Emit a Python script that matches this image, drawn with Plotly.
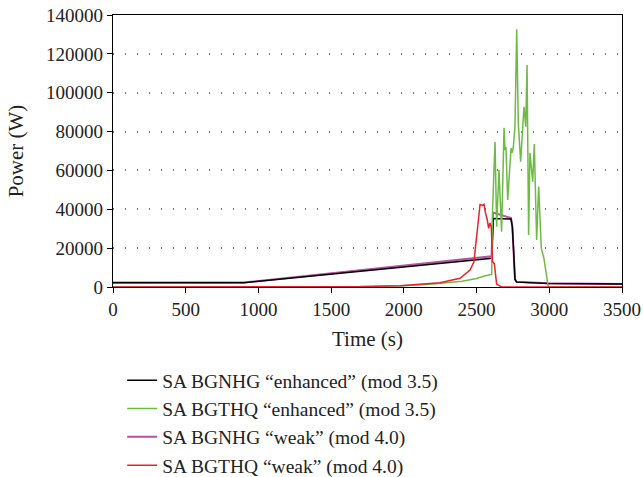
import plotly.graph_objects as go

# ---- data ----
black_t = [0, 900, 2605, 2615, 2737, 2746, 2755, 2764, 2775, 2990, 3500]
black_p = [2200, 2200, 14800, 35300, 35000, 31000, 18000, 4000, 2500, 1800, 1500]

magenta_t = [0, 900, 2603, 2613, 2737, 2746, 2755, 2764, 2775, 2990, 3500]
magenta_p = [2300, 2300, 15800, 38300, 35500, 31000, 18000, 4000, 2700, 1900, 1600]

green_t = [0, 1500, 1800, 2000, 2200, 2400, 2500, 2560, 2604, 2610, 2627, 2638, 2654, 2672,
           2689, 2695, 2702, 2714, 2737, 2746, 2753, 2764, 2776, 2787, 2803, 2826, 2838,
           2847, 2858, 2867, 2886, 2897, 2913, 2927, 2945, 2963, 2993, 3500]
green_p = [0, 0, 300, 700, 1500, 3000, 4400, 5800, 6500, 40000, 74800, 31000, 60200, 28500,
           82000, 70500, 72200, 44800, 71400, 69100, 72200, 82500, 132600, 84200, 64500,
           92800, 82500, 114300, 26800, 69100, 54200, 73600, 24200, 51700, 19900, 14800, 0, 0]

red_t = [0, 1400, 1700, 1973, 2248, 2386, 2455, 2482, 2505, 2524, 2542, 2551, 2560, 2574,
         2583, 2592, 2601, 2610, 2622, 2638, 2672, 3500]
red_p = [0, 0, 200, 700, 2200, 4460, 8750, 13000, 27600, 42500, 42000, 42500, 38500, 34500,
         30200, 33000, 31000, 13000, 12000, 1500, 0, 0]

x_ticks = [0, 500, 1000, 1500, 2000, 2500, 3000, 3500]
y_ticks = [0, 20000, 40000, 60000, 80000, 100000, 120000, 140000]

FONT = "Liberation Serif"

fig = go.Figure()
traces = [
    ("SA BGNHG \u201cweak\u201d (mod 4.0)", magenta_t, magenta_p, "#b5539f", 2, 3),
    ("SA BGNHG \u201cenhanced\u201d (mod 3.5)", black_t, black_p, "#000000", 1.5, 1),
    ("SA BGTHQ \u201cenhanced\u201d (mod 3.5)", green_t, green_p, "#6dbb45", 1.5, 2),
    ("SA BGTHQ \u201cweak\u201d (mod 4.0)", red_t, red_p, "#e8232a", 1.5, 4),
]
for name, t, p, c, w, rank in traces:
    fig.add_trace(go.Scatter(x=t, y=p, mode="lines", name=name,
                             line=dict(color=c, width=w),
                             legendrank=rank, legendgroup=name))

fig.update_layout(
    width=643, height=477,
    margin=dict(l=113, r=21, t=15, b=190, autoexpand=False),
    paper_bgcolor="white", plot_bgcolor="white",
    font=dict(family=FONT, size=19, color="#222"),
    showlegend=True,
    legend=dict(x=0.018, y=-0.272, xanchor="left", yanchor="top",
                traceorder="grouped", tracegroupgap=0,
                font=dict(family=FONT, size=19.5, color="#222"),
                bgcolor="rgba(0,0,0,0)"),
    xaxis=dict(range=[0, 3500], tickvals=x_ticks, ticks="outside", ticklen=5,
               tickcolor="black", showline=True, linecolor="black", linewidth=1.2,
               mirror=True, showgrid=False, zeroline=False,
               title=dict(text="Time (s)", font=dict(family=FONT, size=21), standoff=12),
               tickfont=dict(family=FONT, size=19), layer="below traces"),
    yaxis=dict(range=[0, 140000], tickvals=y_ticks, tickformat="d", ticks="outside", ticklen=5,
               tickcolor="black", showline=True, linecolor="black", linewidth=1.2,
               mirror=True, showgrid=True, gridcolor="#777", gridwidth=1.5,
               griddash="1px,11px", zeroline=False,
               title=dict(text="Power (W)", font=dict(family=FONT, size=21), standoff=16),
               tickfont=dict(family=FONT, size=19), layer="below traces"),
)

fig.write_html("out.html")
